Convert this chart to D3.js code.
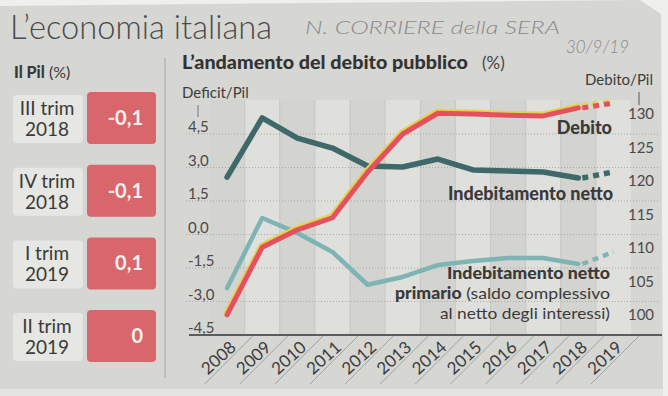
<!DOCTYPE html>
<html>
<head>
<meta charset="utf-8">
<script src="https://cdn.jsdelivr.net/npm/d3@7"></script>
<style>
  body { margin: 0; background: #efefec; }
  svg text { font-family: Lato, "Open Sans", sans-serif; }
</style>
</head>
<body>
<div id="chart"></div>
<script>
// data read from the clipping
var years = [2008, 2009, 2010, 2011, 2012, 2013, 2014, 2015, 2016, 2017, 2018, 2019];
var debito = [103.0, 113.1, 115.7, 117.5, 124.3, 130.0, 133.1, 133.0, 132.8, 132.7, 133.9, 134.6];
var indebNetto = [2.57, 5.22, 4.32, 3.87, 3.07, 3.02, 3.38, 2.89, 2.84, 2.80, 2.53, 2.80];
var indebPrimario = [-2.40, 0.74, 0.07, -0.78, -2.25, -1.90, -1.37, -1.19, -1.05, -1.05, -1.32, -0.78];
var leftTicks = [4.5, 3.0, 1.5, 0.0, -1.5, -3.0, -4.5];
var rightTicks = [130, 125, 120, 115, 110, 105, 100];

// Pil panel
var pilLabels = [["III trim", "2018"], ["IV trim", "2018"], ["I trim", "2019"], ["II trim", "2019"]];
var pilValues = ["-0,1", "-0,1", "0,1", "0"];

var svgWidth = 668;
var svgHeight = 396;

var svg = d3.select("#chart")
  .append("svg")
  .attr("width", svgWidth)
  .attr("height", svgHeight);

// paper clipping
svg.append("polygon")
  .attr("points", "0,6 640,0 661,14 663,396 0,396")
  .attr("fill", "#d6d6d2");
svg.append("rect")
  .attr("x", 0).attr("y", 389).attr("width", 663).attr("height", 7)
  .attr("fill", "#e4e4e1");

// titles
svg.append("text")
  .attr("x", 10).attr("y", 39)
  .attr("font-size", 34).attr("font-weight", 300)
  .attr("fill", "#4a4a4a")
  .attr("textLength", 262).attr("lengthAdjust", "spacingAndGlyphs")
  .text("L\u2019economia italiana");

// handwritten note
svg.append("text")
  .attr("x", 305).attr("y", 34)
  .attr("font-size", 17).attr("font-style", "italic").attr("font-weight", 300)
  .attr("fill", "#8a8a8a")
  .attr("textLength", 255).attr("lengthAdjust", "spacingAndGlyphs")
  .text("N. CORRIERE della SERA");
svg.append("text")
  .attr("x", 566).attr("y", 53)
  .attr("font-size", 17).attr("font-style", "italic").attr("font-weight", 300)
  .attr("fill", "#8a8a8a")
  .text("30/9/19");

// divider
svg.append("line")
  .attr("x1", 165).attr("x2", 165).attr("y1", 58).attr("y2", 378)
  .attr("stroke", "#9a9a97").attr("stroke-width", 0.8);

// ----- left panel: Il Pil -----
var pil = svg.append("g");
var pilTitle = pil.append("text").attr("x", 14).attr("y", 78).attr("fill", "#3a3a3a").attr("font-size", 16);
pilTitle.append("tspan").attr("font-weight", 900).text("Il Pil");
pilTitle.append("tspan").text(" (%)");

var pilY = d3.scaleBand()
  .domain(d3.range(pilValues.length))
  .range([92, 92 + 4 * 72.7]);

var rows = pil.selectAll("g.row")
  .data(pilValues)
  .enter()
  .append("g")
  .attr("class", "row")
  .attr("transform", (d, i) => `translate(0, ${pilY(i)})`);

rows.append("rect")
  .attr("x", 13).attr("y", 3).attr("width", 70).attr("height", 48).attr("rx", 4)
  .attr("fill", "#e6e6e2");
rows.append("rect")
  .attr("x", 87).attr("y", 0).attr("width", 69).attr("height", 52).attr("rx", 4)
  .attr("fill", "#d8666b");
rows.append("text")
  .attr("x", 47).attr("y", 23)
  .attr("text-anchor", "middle").attr("font-size", 19).attr("fill", "#3a3a3a")
  .text((d, i) => pilLabels[i][0]);
rows.append("text")
  .attr("x", 47).attr("y", 44)
  .attr("text-anchor", "middle").attr("font-size", 19).attr("fill", "#3a3a3a")
  .text((d, i) => pilLabels[i][1]);
rows.append("text")
  .attr("x", 143).attr("y", 33)
  .attr("text-anchor", "end").attr("font-size", 20).attr("font-weight", 700)
  .attr("fill", "#f7f1ee")
  .text(d => d);

// ----- right panel: debito pubblico -----
var chartTitle = svg.append("text").attr("x", 182).attr("y", 69).attr("fill", "#333");
chartTitle.append("tspan")
  .attr("font-size", 19).attr("font-weight", 900)
  .attr("textLength", 286).attr("lengthAdjust", "spacingAndGlyphs")
  .text("L\u2019andamento del debito pubblico");
chartTitle.append("tspan")
  .attr("x", 482).attr("font-size", 17).attr("fill", "#444")
  .text("(%)");

svg.append("text")
  .attr("x", 182).attr("y", 98)
  .attr("font-size", 15).attr("fill", "#3d3d3d")
  .text("Deficit/Pil");
svg.append("text")
  .attr("x", 653).attr("y", 85)
  .attr("text-anchor", "end")
  .attr("font-size", 15).attr("fill", "#3d3d3d")
  .text("Debito/Pil");

// scales
var plotTop = 100;
var baseY = 335;
var xBand = d3.scaleBand()
  .domain(years)
  .range([209.5, 631]);
var xPos = d => xBand(d) + xBand.bandwidth() / 2;

var yLeft = d3.scaleLinear()
  .domain([-4.5, 4.5])
  .range([baseY, 134]);
var yRight = d3.scaleLinear()
  .domain([100, 130])
  .range([baseY, 134]);

// column bands
svg.append("g").selectAll("rect")
  .data(years)
  .enter()
  .append("rect")
  .attr("x", d => xBand(d))
  .attr("y", plotTop)
  .attr("width", xBand.bandwidth())
  .attr("height", baseY - plotTop)
  .attr("fill", d => d % 2 ? "#dfdfdb" : "#d3d3cf");

svg.append("g").selectAll("line")
  .data(years.slice(1))
  .enter()
  .append("line")
  .attr("x1", d => xBand(d)).attr("x2", d => xBand(d))
  .attr("y1", plotTop).attr("y2", baseY)
  .attr("stroke", "#c4c4c0").attr("stroke-width", 0.8);

// horizontal dotted grid
svg.append("g").selectAll("line")
  .data(leftTicks.slice(0, -1))
  .enter()
  .append("line")
  .attr("x1", 186).attr("x2", 660)
  .attr("y1", d => yLeft(d)).attr("y2", d => yLeft(d))
  .attr("stroke", "#9c9c98").attr("stroke-width", 0.8)
  .attr("stroke-dasharray", "1,2");

// axis labels
svg.append("g").selectAll("text")
  .data(leftTicks)
  .enter()
  .append("text")
  .attr("x", 188)
  .attr("y", d => yLeft(d) - 7)
  .attr("dy", "0.35em")
  .attr("font-size", 15).attr("fill", "#4a4a4a")
  .text(d => d3.format(".1f")(d).replace("\u2212", "-").replace(".", ","));

svg.append("g").selectAll("text")
  .data(rightTicks)
  .enter()
  .append("text")
  .attr("x", 641)
  .attr("y", d => yRight(d) - 20)
  .attr("dy", "0.35em")
  .attr("text-anchor", "middle")
  .attr("font-size", 15).attr("fill", "#4a4a4a")
  .text(d => d);

// small axis ticks on top
svg.append("line")
  .attr("x1", 639).attr("x2", 639).attr("y1", 92).attr("y2", 105)
  .attr("stroke", "#555").attr("stroke-width", 1);
svg.append("line")
  .attr("x1", 198).attr("x2", 198).attr("y1", 105).attr("y2", 117)
  .attr("stroke", "#777").attr("stroke-width", 1);

// lines
var lineLeft = d3.line()
  .x((d, i) => xPos(years[i]))
  .y(d => yLeft(d));
var lineRight = d3.line()
  .x((d, i) => xPos(years[i]))
  .y(d => yRight(d));

function drawSeries(values, lineGen, color, width, offset) {
  var g = svg.append("g");
  if (offset) g.attr("transform", offset);
  var solid = values.slice(0, -1);
  g.append("path")
    .attr("d", lineGen(solid))
    .attr("fill", "none")
    .attr("stroke", color)
    .attr("stroke-width", width)
    .attr("stroke-linejoin", "round")
    .attr("stroke-linecap", "round");
  // forecast segment 2018-2019 dashed
  var last = values.length - 1;
  g.append("line")
    .attr("x1", xPos(years[last - 1]) + 4).attr("y1", lineGen.y()(values[last - 1]))
    .attr("x2", xPos(years[last])).attr("y2", lineGen.y()(values[last]))
    .attr("stroke", color)
    .attr("stroke-width", width)
    .attr("stroke-dasharray", "6,5");
}

drawSeries(indebPrimario, lineLeft, "#7eb4b4", 4.5);
drawSeries(indebNetto, lineLeft, "#3f686a", 5.5);
drawSeries(debito, lineRight, "#e6d24a", 5, "translate(-1, -1.8)");
drawSeries(debito, lineRight, "#e4505f", 5);

// baseline
svg.append("line")
  .attr("x1", 189).attr("x2", 662)
  .attr("y1", baseY).attr("y2", baseY)
  .attr("stroke", "#2f3238").attr("stroke-width", 1.6);

// year labels with diagonal separators
var yearAxis = svg.append("g");
yearAxis.selectAll("line")
  .data(years)
  .enter()
  .append("line")
  .attr("x1", d => xBand(d) + xBand.bandwidth() + 8).attr("y1", baseY + 1)
  .attr("x2", d => xBand(d) + xBand.bandwidth() - 40).attr("y2", baseY + 49)
  .attr("stroke", "#8e8e8a").attr("stroke-width", 0.7);
yearAxis.selectAll("text")
  .data(years)
  .enter()
  .append("text")
  .attr("transform", d => `translate(${xPos(d) + 10}, ${baseY + 14}) rotate(-42)`)
  .attr("text-anchor", "end")
  .attr("font-size", 17).attr("fill", "#3c3c3c")
  .text(d => d);

// series labels
svg.append("text")
  .attr("x", 612).attr("y", 134)
  .attr("text-anchor", "end")
  .attr("font-size", 18).attr("font-weight", 900).attr("fill", "#3a3a3a")
  .text("Debito");
svg.append("text")
  .attr("x", 613).attr("y", 200)
  .attr("text-anchor", "end")
  .attr("font-size", 18).attr("font-weight", 900).attr("fill", "#3a3a3a")
  .attr("textLength", 165).attr("lengthAdjust", "spacingAndGlyphs")
  .text("Indebitamento netto");
svg.append("text")
  .attr("x", 610).attr("y", 279)
  .attr("text-anchor", "end")
  .attr("font-size", 16).attr("font-weight", 900).attr("fill", "#3a3a3a")
  .attr("textLength", 163).attr("lengthAdjust", "spacingAndGlyphs")
  .text("Indebitamento netto");
var prim = svg.append("text")
  .attr("x", 610).attr("y", 299)
  .attr("text-anchor", "end")
  .attr("font-size", 16).attr("fill", "#3a3a3a")
  .attr("textLength", 215).attr("lengthAdjust", "spacingAndGlyphs");
prim.append("tspan").attr("font-weight", 900).text("primario");
prim.append("tspan").text(" (saldo complessivo");
svg.append("text")
  .attr("x", 610).attr("y", 319)
  .attr("text-anchor", "end")
  .attr("font-size", 16).attr("fill", "#3a3a3a")
  .attr("textLength", 170).attr("lengthAdjust", "spacingAndGlyphs")
  .text("al netto degli interessi)");
</script>
</body>
</html>
